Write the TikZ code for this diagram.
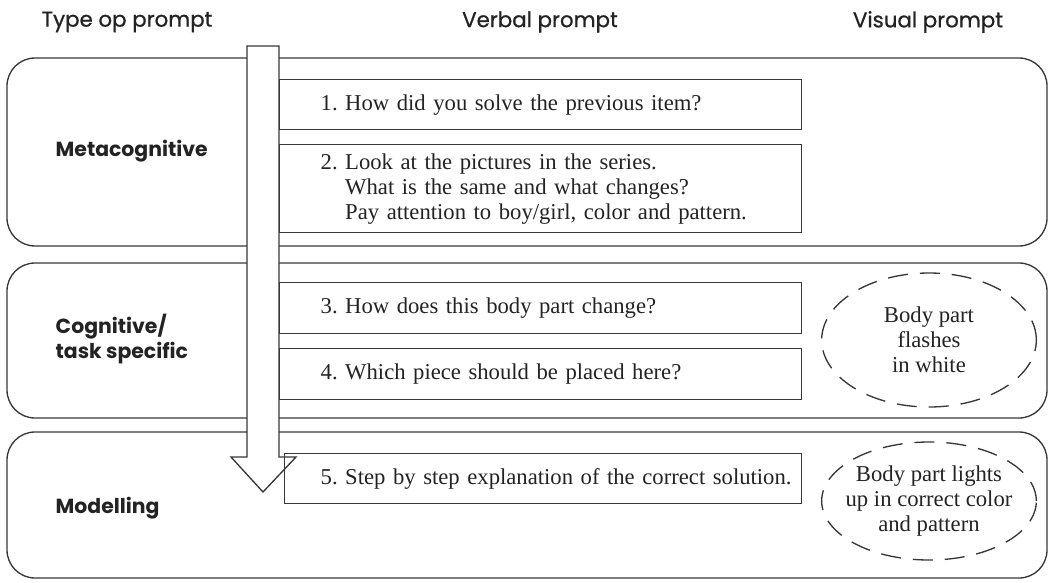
\documentclass[tikz,border=0pt]{standalone}
\usepackage{fontspec}
\setmainfont{Liberation Serif}
\newfontfamily\headfont[FakeBold=0.8]{Poppins}
\newfontfamily\rowfont{Poppins}
\usepackage{tikz}
\usetikzlibrary{shapes.geometric}
\definecolor{lineGray}{RGB}{55,55,55}
\definecolor{textGray}{RGB}{35,35,35}

\begin{document}
\begin{tikzpicture}[x=0.75pt, y=-0.75pt,
    panel/.style={draw=lineGray, line width=1pt, rounded corners=21pt},
    prompt/.style={rectangle, draw=lineGray, line width=1pt, anchor=north west,
        align=left, inner xsep=6pt, text width=379.5pt, text=textGray,
        font=\fontsize{17}{18.75}\selectfont,
        execute at begin node={\leftskip=24.75pt}},
    visual/.style={ellipse, draw=lineGray, line width=1pt, dash pattern=on 15pt off 9pt,
        minimum width=161pt, align=center, inner sep=0pt, text=textGray,
        font=\fontsize{17}{18.75}\selectfont},
    header/.style={font=\headfont\fontsize{16}{19}\selectfont, text=textGray},
    rowlabel/.style={font=\rowfont\bfseries\fontsize{15.3}{19}\selectfont,
        align=left, anchor=west, text=textGray}
]
\useasboundingbox (0,0) rectangle (1053,582);

% column heads
\node[header] (typehead) at (127,22) {Type op prompt};
\node[header] (verbalhead) at (540,22) {Verbal prompt};
\node[header] (visualhead) at (928,22) {Visual prompt};

% rows
\draw[panel] (7,58) rectangle (1047,246);
\draw[panel] (7,263) rectangle (1047,418);
\draw[panel] (7,432) rectangle (1047,578);

\node[rowlabel] (meta) at (51,151) {Metacognitive};
\node[rowlabel] (cogn) at (51,339) {Cognitive/\\task specific};
\node[rowlabel] (model) at (51,508) {Modelling};

% the arrow
\draw[lineGray, line width=1pt, fill=white]
    (247,46) -- (279,46) -- (279,457) -- (296,457) -- (263,492)
    -- (231,457) -- (247,457) -- cycle;

% verbal prompts
\node[prompt, minimum height=37.5pt] (p1) at (279,79)
    {1.~How did you solve the previous item?};
\node[prompt, minimum height=66pt] (p2) at (279,144)
    {2.~Look at the pictures in the series.\\
     \hphantom{2.~}What is the same and what changes?\\
     \hphantom{2.~}Pay attention to boy/girl, color and pattern.};
\node[prompt, minimum height=38.25pt] (p3) at (279,282)
    {3.~How does this body part change?};
\node[prompt, minimum height=38.25pt] (p4) at (279,348)
    {4.~Which piece should be placed here?};
\node[prompt, minimum height=37.5pt, text width=375.75pt,
    execute at begin node={\leftskip=21pt}] (p5) at (284,453)
    {5.~Step by step explanation of the correct solution.};

% visual prompts
\node[visual, minimum height=100.5pt] (flash) at (929,340)
    {Body part\\flashes\\in white};
\node[visual, minimum height=88.5pt, inner xsep=-6pt] (light) at (929,501)
    {Body part lights\\up in correct color\\and pattern};
\end{tikzpicture}
\end{document}
